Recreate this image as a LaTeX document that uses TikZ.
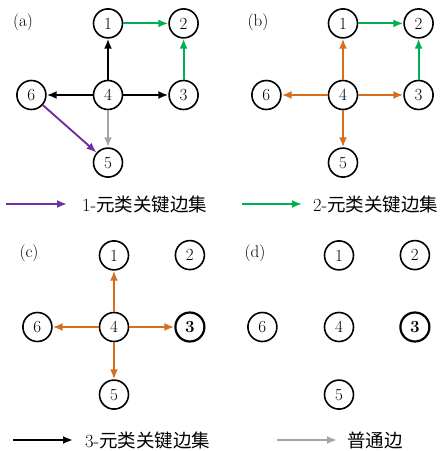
\documentclass[tikz,border=0pt]{standalone}
\usepackage{fontspec}
\usepackage{xcolor}
\newfontfamily\cjk{Noto Sans CJK SC}
\usetikzlibrary{arrows.meta,positioning}
\definecolor{kpurple}{RGB}{112,48,160}
\definecolor{kgreen}{RGB}{0,176,80}
\definecolor{korange}{RGB}{214,110,30}
\definecolor{kgray}{RGB}{165,165,165}

\begin{document}
\begin{tikzpicture}[x=1pt, y=1pt, >={Latex[length=10pt,width=8pt]},
             font=\fontsize{17}{20}\selectfont,
             vtx/.style = {draw, circle, line width=1.6pt, minimum size=29pt, inner sep=0pt},
             hub/.style = {vtx, line width=2.2pt, font=\fontsize{17}{20}\selectfont\bfseries},
             key/.style = {anchor=west, inner sep=0pt, font=\fontsize{18.5}{20}\selectfont},
             edg/.style = {->, line width=1.9pt},
            gedge/.style = {edg, color=kgreen},
            kedge/.style = {edg, color=black},
            nedge/.style = {edg, color=kgray},
            pedge/.style = {edg, color=kpurple},
            oedge/.style = {edg, color=korange},
]
\useasboundingbox (0,0) rectangle (443,451);
%% panel (a)
\node at (23,429) (la) {(a)};
\node [vtx]                    at (108,356) (a4) {4};
\node [vtx, above=41pt of a4]  (a1) {1};
\node [vtx, right=45pt of a4]  (a3) {3};
\node [vtx, above=41pt of a3]  (a2) {2};
\node [vtx, left=46pt of a4]   (a6) {6};
\node [vtx, below=37pt of a4]  (a5) {5};
%% panel (b)
\node at (258,429) (lb) {(b)};
\node [vtx]                    at (343,356) (b4) {4};
\node [vtx, above=41pt of b4]  (b1) {1};
\node [vtx, right=45pt of b4]  (b3) {3};
\node [vtx, above=41pt of b3]  (b2) {2};
\node [vtx, left=46pt of b4]   (b6) {6};
\node [vtx, below=37pt of b4]  (b5) {5};
%% panel (c)
\node at (29,198) (lc) {(c)};
\node [vtx]                    at (114,124) (c4) {4};
\node [vtx, above=41pt of c4]  (c1) {1};
\node [hub, right=45pt of c4]  (c3) {3};
\node [vtx, above=41pt of c3]  (c2) {2};
\node [vtx, left=46pt of c4]   (c6) {6};
\node [vtx, below=37pt of c4]  (c5) {5};
%% panel (d)
\node at (255,198) (ld) {(d)};
\node [vtx]                    at (339,124) (d4) {4};
\node [vtx, above=41pt of d4]  (d1) {1};
\node [hub, right=45pt of d4]  (d3) {3};
\node [vtx, above=41pt of d3]  (d2) {2};
\node [vtx, left=46pt of d4]   (d6) {6};
\node [vtx, below=37pt of d4]  (d5) {5};
%% legend
\coordinate (p0) at (6,247);   \coordinate (p1) at (67,247);
\coordinate (g0) at (242,247); \coordinate (g1) at (302,247);
\coordinate (k0) at (13,11);   \coordinate (k1) at (73,11);
\coordinate (n0) at (277,11);  \coordinate (n1) at (337,11);
\node [key] at (82,247)  (t1) {1-{\cjk 元类关键边集}};
\node [key] at (313,247) (t2) {2-{\cjk 元类关键边集}};
\node [key] at (85,11)   (t3) {3-{\cjk 元类关键边集}};
\node [key] at (347,11)  (t4) {\cjk 普通边};
%% paths
\draw[gedge] (a1) -- (a2);
\draw[gedge] (a3) -- (a2);
\draw[gedge] (b1) -- (b2);
\draw[gedge] (b3) -- (b2);
\draw[gedge] (g0) -- (g1);
\draw[kedge] (a4) -- (a1);
\draw[kedge] (a4) -- (a6);
\draw[kedge] (a4) -- (a3);
\draw[kedge] (k0) -- (k1);
\draw[nedge] (a4) -- (a5);
\draw[nedge] (n0) -- (n1);
\draw[pedge] (a6) -- (a5);
\draw[pedge] (p0) -- (p1);
\draw[oedge] (b4) -- (b1);
\draw[oedge] (b4) -- (b6);
\draw[oedge] (b4) -- (b3);
\draw[oedge] (b4) -- (b5);
\draw[oedge] (c4) -- (c1);
\draw[oedge] (c4) -- (c6);
\draw[oedge] (c4) -- (c3);
\draw[oedge] (c4) -- (c5);
\end{tikzpicture}
\end{document}
